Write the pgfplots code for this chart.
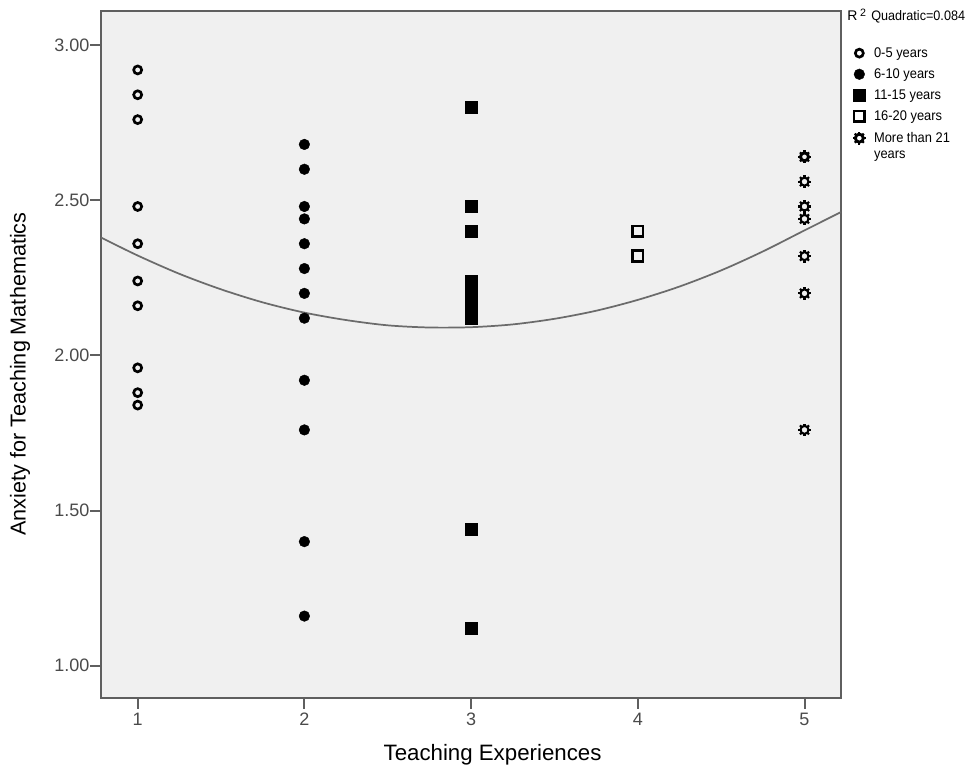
\documentclass[border=0pt]{standalone}
\usepackage{fontspec}
\setmainfont{Liberation Sans}
\newfontfamily\legfont[FakeStretch=0.92]{Liberation Sans}
\usepackage{pgfplots}
\pgfplotsset{compat=1.18}

\definecolor{plotbg}{HTML}{F0F0F0}
\definecolor{framec}{HTML}{5F5F5F}
\definecolor{fitc}{HTML}{6B6B6B}
\definecolor{tickc}{HTML}{4A4A4A}

% SPSS "sun" marker: thick ring with eight small teeth
\pgfdeclareplotmark{gear}{%
  \pgfpathcircle{\pgfpointorigin}{\pgfplotmarksize}%
  \pgfusepathqstroke
  \foreach \a in {0,45,...,315}{%
    \pgfsetlinewidth{1.6pt}%
    \pgfpathmoveto{\pgfpointpolar{\a}{\pgfplotmarksize}}%
    \pgfpathlineto{\pgfpointpolar{\a}{1.6\pgfplotmarksize}}%
    \pgfusepathqstroke
  }%
}

\begin{document}
\begin{tikzpicture}
\path[use as bounding box] (0,0) rectangle (727.5pt,581.25pt);
\begin{axis}[
    at={(75.75pt,57.75pt)}, anchor=south west,
    scale only axis, width=555pt, height=515.25pt,
    xmin=0.78, xmax=5.219, ymin=0.896, ymax=3.110,
    axis background/.style={fill=plotbg},
    axis line style={framec, line width=1.5pt},
    every tick/.style={framec, line width=1.5pt},
    tick align=outside, major tick length=8pt,
    xtick pos=left, ytick pos=left,
    xtick={1,2,3,4,5}, ytick={1,1.5,2,2.5,3},
    yticklabel style={/pgf/number format/fixed, /pgf/number format/fixed zerofill,
        /pgf/number format/precision=2, inner sep=0.5pt},
    ticklabel style={font=\fontsize{13.5}{16}\selectfont, text=tickc},
    /pgf/number format/assume math mode=true,
    legend style={at={(rel axis cs:1,1)}, anchor=north west, xshift=8.75pt, yshift=-26pt,
        draw=none, fill=none, inner sep=0pt, row sep=5pt,
        font=\legfont\fontsize{10.5}{12}\selectfont, nodes={inner sep=1pt},
        /tikz/column 1/.style={column sep=5.25pt}},
    legend cell align=left,
    legend image code/.code={\draw[mark repeat=2,mark phase=2,#1] plot coordinates {(0pt,0pt)(6pt,0pt)(12pt,0pt)};},
]

% quadratic fit line
\addplot[fitc, line width=1.3pt, smooth, forget plot] coordinates {
  (0.78,2.380) (1.00,2.322) (1.25,2.263) (1.50,2.213) (1.75,2.171)
  (2.00,2.138) (2.25,2.114) (2.50,2.097) (2.75,2.090) (3.00,2.091)
  (3.25,2.100) (3.50,2.118) (3.75,2.144) (4.00,2.179) (4.25,2.222)
  (4.50,2.274) (4.75,2.335) (5.00,2.403) (5.219,2.462)
};

% 0-5 years
\addplot[black, only marks, mark=o, mark size=3pt, mark options={line width=2pt}] coordinates {
  (1,2.92) (1,2.84) (1,2.76) (1,2.48) (1,2.36) (1,2.24) (1,2.16) (1,1.96) (1,1.88) (1,1.84)
};
\addlegendentry{0-5 years}

% 6-10 years
\addplot[black, only marks, mark=*, mark size=4pt, mark options={line width=0.3pt}] coordinates {
  (2,2.68) (2,2.60) (2,2.48) (2,2.44) (2,2.36) (2,2.28) (2,2.20) (2,2.12)
  (2,1.92) (2,1.76) (2,1.40) (2,1.16)
};
\addlegendentry{6-10 years}

% 11-15 years
\addplot[black, only marks, mark=square*, mark size=4.5pt, mark options={line width=0.3pt}] coordinates {
  (3,2.80) (3,2.48) (3,2.40) (3,2.24) (3,2.20) (3,2.16) (3,2.12) (3,1.44) (3,1.12)
};
\addlegendentry{11-15 years}

% 16-20 years
\addplot[black, only marks, mark=square, mark size=4pt, mark options={line width=2pt}] coordinates {
  (4,2.40) (4,2.32)
};
\addlegendentry{16-20 years}

% more than 21 years
\addplot[black, only marks, mark=gear, mark size=3pt, mark options={line width=2.2pt}] coordinates {
  (5,2.64) (5,2.56) (5,2.48) (5,2.44) (5,2.32) (5,2.20) (5,1.76)
};
\addlegendentry{{\begin{tabular}[t]{@{}l@{}}More than 21\\years\end{tabular}}}

\end{axis}

\node[anchor=base west, inner sep=0pt] at (635.25pt,565.5pt)
  {\fontsize{10.5}{12}\selectfont R\hspace{2pt}\raisebox{3.5pt}{\fontsize{8}{9}\selectfont 2}\hspace{4pt}\legfont\fontsize{10.3}{11}\selectfont Quadratic=0.084};
\node[rotate=90, inner sep=0pt, font=\fontsize{16.2}{20}\selectfont] at (15pt,300.75pt)
  {Anxiety for Teaching Mathematics};
\node[anchor=base, inner sep=0pt, font=\fontsize{16.7}{20}\selectfont] at (369.4pt,11.25pt)
  {Teaching Experiences};
\end{tikzpicture}
\end{document}
